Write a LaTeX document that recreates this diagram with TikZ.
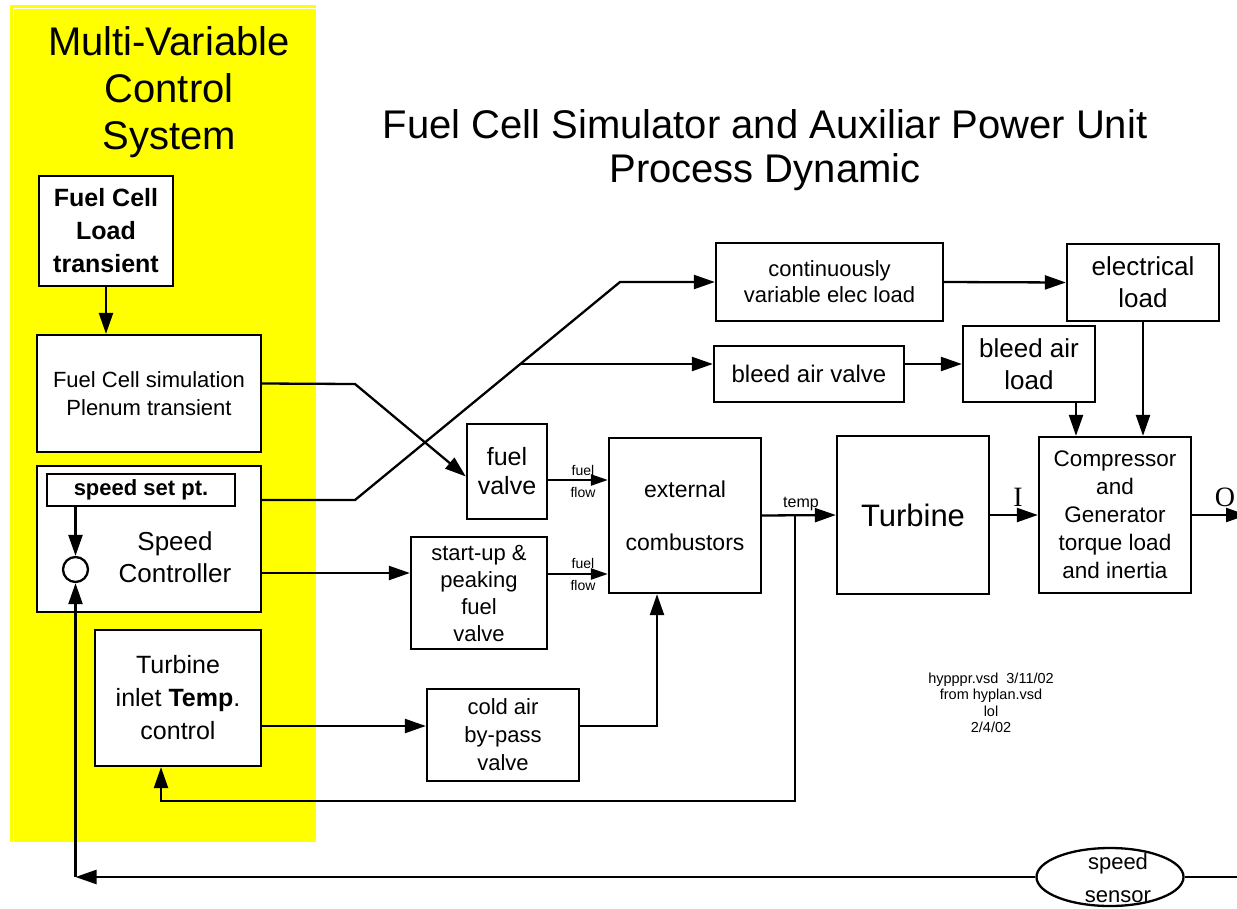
\documentclass[tikz,border=0pt]{standalone}
\usepackage{fontspec}
\setmainfont{Liberation Sans}
\newfontfamily\serifio{Liberation Serif}
\usetikzlibrary{arrows.meta,shapes.geometric}
\newcommand{\fsz}[2]{\fontsize{#1}{#2}\selectfont}
\definecolor{panelyellow}{rgb}{1,1,0}

\begin{document}
\begin{tikzpicture}[x=1pt, y=-1pt, line width=2.3pt,
  blk/.style={draw, fill=white, inner sep=0pt, align=center},
  txt/.style={inner sep=0pt, align=center},
  arr/.style={-{Triangle[length=21pt, width=14pt]}},
  sarr/.style={-{Triangle[length=17pt, width=11pt]}},
  tag/.style={inner sep=0pt, align=center, font={\fsz{14}{22}}}]
  \useasboundingbox (0,0) rectangle (1237,908);
  \fill[panelyellow] (10,5) rectangle (316,842);
  \draw[white, line width=1pt] (13,842) -- (13,8) -- (316,8);
  \node[txt, font={\fsz{40}{47}}] (mvcs) at (169,92) {Multi-Variable\\Control\\System};
  \node[txt, font={\fsz{40}{44}}] (ptitle) at (765,150) {Fuel Cell Simulator and Auxiliar Power Unit\\Process Dynamic};

  \node[blk, minimum width=134pt, minimum height=110pt, font={\bfseries\fsz{25}{33}}] (fclt) at (106,231) {Fuel Cell\\Load\\transient};
  \node[blk, minimum width=224pt, minimum height=117pt, font={\fsz{22}{28}}] (fcsim) at (149,393.5) {Fuel Cell simulation\\Plenum transient};
  \node[blk, minimum width=224pt, minimum height=146pt] (spdctl) at (149,539) {};
  \node[blk, minimum width=188pt, minimum height=32pt, font={\bfseries\fsz{22}{26}}] (ssp) at (141,490) {speed set pt.};
  \node[txt, font={\fsz{26}{32}}] (spdtxt) at (175,557) {Speed\\Controller};
  \node[draw, circle, fill=white, minimum size=25pt, inner sep=0pt] (sum) at (75.5,569.5) {};
  \node[blk, minimum width=166pt, minimum height=136pt, font={\fsz{25}{33}}] (titc) at (178,698) {Turbine\\inlet \textbf{Temp}.\\control};

  \node[blk, minimum width=80pt, minimum height=95pt, font={\fsz{25}{29}}] (fvalve) at (507,471.5) {fuel\\valve};
  \node[blk, minimum width=136pt, minimum height=112pt, font={\fsz{22}{27}}] (suvalve) at (479,593) {start-up \&\\peaking\\fuel\\valve};
  \node[blk, minimum width=152pt, minimum height=155pt, font={\fsz{23}{53}}] (extc) at (685,515.5) {external\\combustors};
  \node[blk, minimum width=152pt, minimum height=92pt, font={\fsz{22}{28}}] (cavalve) at (503,735) {cold air\\by-pass\\valve};
  \node[blk, minimum width=152pt, minimum height=158pt, font={\fsz{31}{36}}] (turb) at (913,515) {Turbine};
  \node[blk, minimum width=152pt, minimum height=156pt, font={\fsz{22.5}{28}}] (comp) at (1115,515) {Compressor\\and\\Generator\\torque load\\and inertia};
  \node[blk, minimum width=227pt, minimum height=78pt, font={\fsz{22}{26}}] (cvel) at (829.5,282) {continuously\\variable elec load};
  \node[blk, minimum width=152pt, minimum height=77pt, font={\fsz{26}{32}}] (eload) at (1143,282.5) {electrical\\load};
  \node[blk, minimum width=190pt, minimum height=56pt, font={\fsz{24}{28}}] (bavalve) at (809,374) {bleed air valve};
  \node[blk, minimum width=132pt, minimum height=76pt, font={\fsz{26}{32}}] (baload) at (1029,364) {bleed air\\load};

  \node[draw, ellipse, minimum width=147pt, minimum height=58pt, inner sep=0pt] (sensor) at (1110,877) {};
  \node[txt, font={\fsz{22}{33}}] (sensortxt) at (1118,878) {speed\\sensor};
  \node[txt, font={\fsz{14.5}{16.5}}] (vsdnote) at (991,703) {hypppr.vsd\ \ 3/11/02\\from hyplan.vsd\\lol\\2/4/02};

  \coordinate (fc1) at ([yshift=10pt]fcsim.east);
  \coordinate (k1) at (355,384);
  \coordinate (sc1) at ([yshift=39pt]spdctl.east);
  \coordinate (sc2) at ([yshift=-34pt]spdctl.east);
  \coordinate (k2) at (355,500);
  \coordinate (k3) at (620,282);
  \coordinate (k4) at (520,364);
  \coordinate (fv1) at ([yshift=-8.5pt]fvalve.east);
  \coordinate (sv1) at ([yshift=19pt]suvalve.east);
  \coordinate (tc1) at ([yshift=-28pt]titc.east);
  \coordinate (ca1) at ([yshift=9pt]cavalve.east);
  \coordinate (tj) at (795,515);
  \coordinate (tb) at (795,801);
  \coordinate (ba1) at ([xshift=47pt]baload.south);
  \coordinate (bv1) at ([yshift=10pt]bavalve.east);
  \coordinate (oend) at (1247,515);
  \coordinate (rin) at (1242,877);
  \coordinate (fbc) at (sum |- sensor.west);

  \draw[arr] (fclt.south) -- (fclt.south |- fcsim.north);
  \draw[arr] (fc1) -- (k1) -- ([yshift=-5pt]fvalve.west);
  \draw[arr] (sc1) -- (k2) -- (k3) -- (cvel.west);
  \draw[arr] (k4) -- (k4 -| bavalve.west);
  \draw[arr] (sc2) -- (sc2 -| suvalve.west);
  \draw[sarr] (fv1) -- (fv1 -| extc.west);
  \draw[sarr] (sv1) -- (sv1 -| extc.west);
  \draw[arr] (tc1) -- (tc1 -| cavalve.west);
  \draw[arr] (ca1) -| ([xshift=-28pt]extc.south);
  \draw[arr] (extc.east) -- (turb.west);
  \draw[arr] (tj) -- (tb) -| ([xshift=-17pt]titc.south);
  \draw[arr] (turb.east) -- (comp.west);
  \draw[arr] (comp.east) -- (oend);
  \draw[arr] (cvel.east) -- (eload.west);
  \draw[arr] (bv1) -- (bv1 -| baload.west);
  \draw[arr] (ba1) -- (ba1 |- comp.north);
  \draw[arr] (eload.south) -- (eload.south |- comp.north);
  \draw[arr] (ssp.south -| sum) -- (sum.north);
  \draw (rin) -- (sensor.east);
  \draw[arr] (sensor.west) -- (fbc);
  \draw[arr] (fbc) -- (sum.south);

  \node[tag] (ffl1) at (583,481) {fuel\\flow};
  \node[tag] (ffl2) at (583,574) {fuel\\flow};
  \node[txt, font={\fsz{16}{18}}] (templbl) at (801,504) {temp};
  \node[txt, font={\serifio\fsz{28}{30}}] (ilbl) at (1018,497) {I};
  \node[txt, font={\serifio\fsz{28}{30}}] (olbl) at (1225,497) {O};
\end{tikzpicture}
\end{document}
